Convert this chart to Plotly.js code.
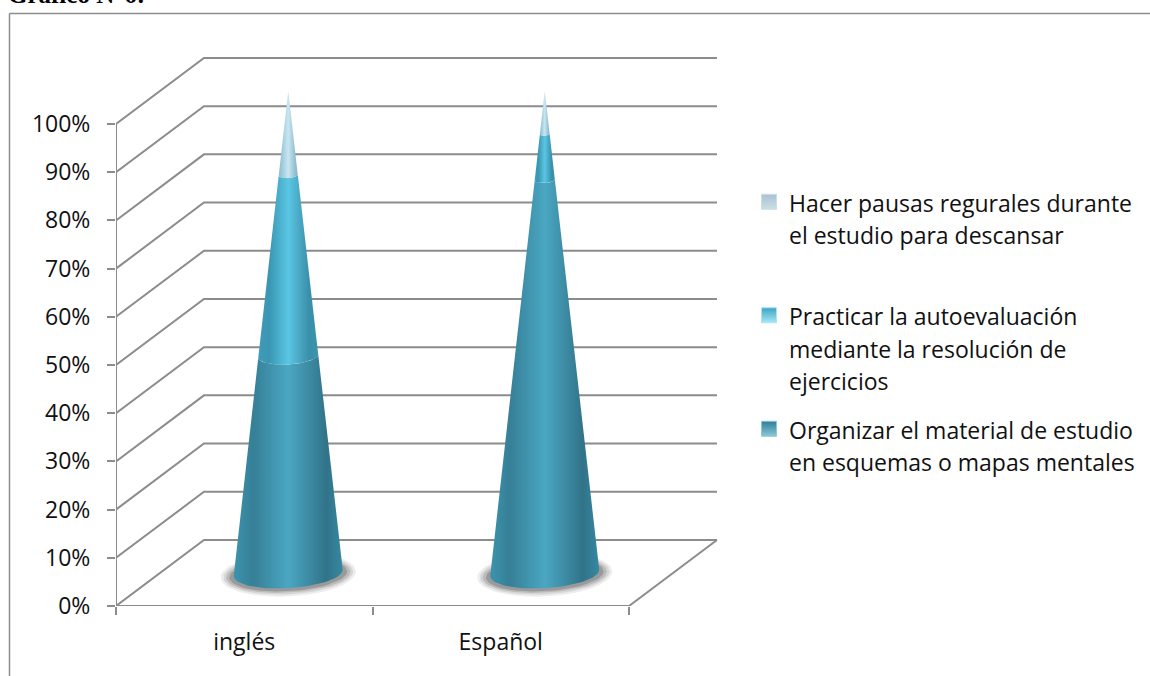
<!DOCTYPE html>
<html>
<head>
<meta charset="utf-8">
<script src="https://cdn.plot.ly/plotly-3.0.1.min.js"></script>
<style>html,body{margin:0;padding:0;background:#fff;overflow:hidden}#chart{width:1150px;height:676px}</style>
</head>
<body>
<div id="chart"></div>
<script>
// ---- data ----
const categories = ['inglés', 'Español'];
const organizar = [45, 81.5];
const practicar = [37.5, 9.5];
const hacer = [17.5, 9];
const seriesNames = [
  'Hacer pausas regurales durante|el estudio para descansar| ',
  'Practicar la autoevaluación|mediante la resolución de|ejercicios',
  'Organizar el material de estudio|en esquemas o mapas mentales'
];
const yTicks = [0, 10, 20, 30, 40, 50, 60, 70, 80, 90, 100];

// ---- 3-D look ----
const DX = 0.343, DY = 13.7;        // wall depth in axis units
const R = 0.2125, H = 3.15, TILT = 3; // cone base radius / ellipse height / tilt
const GRID = '#8c8c8c';
const hi = s => ({type: 'horizontal', colorscale: s});
const grads = {
  org: hi([[0,'#3d93ac'],[0.18,'#367f97'],[0.5,'#4aa7c2'],[0.85,'#317389'],[1,'#3688a1']]),
  pra: hi([[0,'#3f9cb8'],[0.18,'#3a96b2'],[0.5,'#5ac6e4'],[0.85,'#3a8fa9'],[1,'#3a93ad']]),
  hac: hi([[0,'#8dbccd'],[0.2,'#a0cddd'],[0.5,'#c9e6f1'],[0.85,'#93c0d1'],[1,'#8bb9ca']])
};
const marks = [
  {c: '#a6c4d1', e: '#cddde4'},
  {c: '#3da3c1', e: '#a8e6f5'},
  {c: '#2f7d96', e: '#8cc7d8'}
];

const traces = [];
const line = (x, y, w) => traces.push({x, y, mode: 'lines', type: 'scatter', cliponaxis: false,
  line: {color: GRID, width: w || 2}, showlegend: false, hoverinfo: 'skip'});

// walls
yTicks.forEach(v => {
  line([0, DX, categories.length + DX], [v, v + DY, v + DY]);
});
line([0, categories.length], [0, 0]);
line([categories.length, categories.length + DX], [0, DY]);
line([0, 0], [0, 100]);

// one point on a horizontal circle of the cone, at fraction f of its height
function rim(cx, f, t) {
  const u = Math.cos(t), v = Math.sin(t), k = 1 - f;
  return [cx + R * k * u, DY / 2 + 100 * f + H * k * v + TILT * R * k * u];
}
function arc(cx, f, from, to) {
  const xs = [], ys = [];
  for (let i = 0; i <= 40; i++) {
    const p = rim(cx, f, from + (to - from) * i / 40);
    xs.push(p[0]); ys.push(p[1]);
  }
  return [xs, ys];
}

categories.forEach((cat, i) => {
  const cx = i + 0.5 + DX / 2;
  // soft shadow under the cone
  [[1.24, 1.45, 0.10], [1.19, 1.32, 0.14], [1.14, 1.2, 0.2], [1.08, 1.1, 0.3]].forEach(s => {
    const xs = [], ys = [];
    for (let k = 0; k <= 60; k++) {
      const t = 2 * Math.PI * k / 60;
      xs.push(cx + R * s[0] * Math.cos(t));
      ys.push(DY / 2 - 0.3 + H * s[1] * Math.sin(t) + TILT * R * Math.cos(t));
    }
    traces.push({x: xs, y: ys, mode: 'lines', type: 'scatter', fill: 'toself', cliponaxis: false,
      fillcolor: 'rgba(80,80,80,' + s[2] + ')', line: {width: 0}, showlegend: false, hoverinfo: 'skip'});
  });
  // stacked cone segments, bottom first
  const stack = [[organizar[i], 'org'], [practicar[i], 'pra'], [hacer[i], 'hac']];
  let base = 0;
  stack.forEach(s => {
    const f0 = base / 100, f1 = Math.min(1, (base + s[0]) / 100);
    const low = arc(cx, f0, Math.PI, 2 * Math.PI);
    const up = arc(cx, f1, 2 * Math.PI, Math.PI);
    traces.push({x: low[0].concat(up[0]), y: low[1].concat(up[1]), type: 'scatter', mode: 'lines',
      fill: 'toself', fillgradient: grads[s[1]], line: {width: 0}, cliponaxis: false,
      name: cat, showlegend: false, hoverinfo: 'skip'});
    base += s[0];
  });
});

// legend entries
seriesNames.forEach((n, i) => {
  traces.push({x: [null], y: [null], type: 'scatter', mode: 'markers',
    name: n.split('|').map(l => '<span style="font-size:23px">' + l + '</span>').join('<br>'),
    legendgroup: 'g' + i, showlegend: true,
    marker: {symbol: 'square', size: 15, color: marks[i].c,
      gradient: {type: 'vertical', color: marks[i].e},
      line: {color: marks[i].e, width: 1}}});
});

const FS = 23, FF = '"Open Sans", sans-serif';
const layout = {
  width: 1150, height: 676,
  paper_bgcolor: '#fff', plot_bgcolor: 'rgba(0,0,0,0)',
  margin: {l: 116, r: 425, t: 50, b: 70, pad: 0},
  font: {family: FF, size: FS, color: '#111'},
  title: {text: '<b>Gráfico N°6:</b>', x: 8 / 1150, xanchor: 'left', xref: 'container',
    y: 1 - 3 / 676, yanchor: 'bottom', yref: 'container', pad: {t: 0, b: 0, l: 0, r: 0},
    font: {family: 'Liberation Serif', size: 25, color: '#000'}},
  xaxis: {
    range: [0, 609 / 256.5], showgrid: false, zeroline: false, showline: false, fixedrange: true,
    tickmode: 'array', tickvals: categories.map((c, i) => i + 0.5), ticktext: categories,
    ticks: '', ticklabelstandoff: 20, tickfont: {size: FS, family: FF, color: '#111'},
    minor: {tickmode: 'array', tickvals: [0, 1, 2], ticks: 'outside', ticklen: 8, tickwidth: 2,
      tickcolor: GRID, showgrid: false}
  },
  yaxis: {
    range: [0, 556 / 4.82], showgrid: false, zeroline: false, showline: false, fixedrange: true,
    tickmode: 'array', tickvals: yTicks, ticktext: yTicks.map(v => v + '%'),
    ticks: 'outside', ticklen: 8, tickwidth: 2, tickcolor: GRID, ticklabelstandoff: 12,
    tickfont: {size: FS, family: FF, color: '#111'}
  },
  legend: {x: 749 / 1150, xanchor: 'left', xref: 'container', y: 1 - 179 / 676, yanchor: 'top', yref: 'container',
    font: {size: 25, family: FF, color: '#111'}, tracegroupgap: 13, itemclick: false, itemdoubleclick: false,
    bgcolor: 'rgba(0,0,0,0)', traceorder: 'grouped', itemsizing: 'trace', valign: 'top'},
  shapes: [
    {type: 'line', xref: 'paper', yref: 'paper', x0: (9.5 - 116) / 609, x1: (1150 - 116) / 609,
      y0: 1 + (50 - 13.5) / 556, y1: 1 + (50 - 13.5) / 556, line: {color: GRID, width: 1.5}},
    {type: 'line', xref: 'paper', yref: 'paper', x0: (9.5 - 116) / 609, x1: (9.5 - 116) / 609,
      y0: 1 + (50 - 13.5) / 556, y1: -70 / 556, line: {color: GRID, width: 1.5}}
  ]
};
Plotly.newPlot('chart', traces, layout, {displayModeBar: false});
</script>
</body>
</html>
